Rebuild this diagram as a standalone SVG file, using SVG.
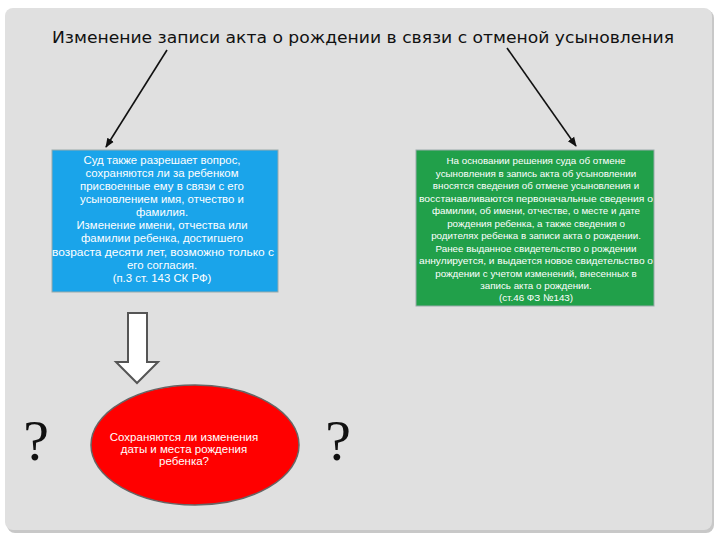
<svg xmlns="http://www.w3.org/2000/svg" width="720" height="540" viewBox="0 0 720 540">
<defs>
<style>
.t{font-family:"Liberation Sans","DejaVu Sans",sans-serif;fill:#fff;text-anchor:middle}
.title{font-family:"DejaVu Sans","Liberation Sans",sans-serif;font-size:16px;fill:#111;text-anchor:middle}
.q{font-family:"Liberation Serif","DejaVu Serif",serif;font-size:58px;fill:#111;text-anchor:middle}
.con{stroke:#111;stroke-width:1.6;fill:none;marker-end:url(#ah)}
</style>
<marker id="ah" viewBox="0 0 10 10" refX="9" refY="5" markerWidth="6" markerHeight="6" orient="auto">
<path d="M0,1 L10,5 L0,9 Z" fill="#111"/>
</marker>
</defs>
<rect x="0" y="0" width="720" height="540" fill="#fff"/>
<rect x="7" y="10" width="707" height="523" rx="8" fill="#c8c8c8"/>
<rect x="5" y="8" width="707" height="522" rx="8" fill="#e0e0e0"/>
<g id="title">
<text class="title" x="363" y="43" textLength="622" lengthAdjust="spacingAndGlyphs">Изменение записи акта о рождении в связи с отменой усыновления</text>
</g>
<g id="connectors">
<line class="con" x1="167" y1="50" x2="106" y2="147"/>
<line class="con" x1="507" y1="48" x2="576" y2="146"/>
<path d="M128,313 H147 V362 H158 L137,383 L116,362 H128 Z" fill="#fff" stroke="#555" stroke-width="2"/>
</g>
<g id="blue">
<rect x="52" y="150" width="226" height="142" fill="#1aa4ea" stroke="#9aa" stroke-width="1"/>
<g class="t" font-size="11.4">
<text x="162" y="164">Суд также разрешает вопрос,</text>
<text x="162" y="177">сохраняются ли за ребенком</text>
<text x="162" y="190">присвоенные ему в связи с его</text>
<text x="162" y="203">усыновлением имя, отчество и</text>
<text x="162" y="216">фамилия.</text>
<text x="162" y="229">Изменение имени, отчества или</text>
<text x="162" y="242">фамилии ребенка, достигшего</text>
<text x="163" y="256" textLength="222" lengthAdjust="spacingAndGlyphs">возраста десяти лет, возможно только с</text>
<text x="162" y="269">его согласия.</text>
<text x="162" y="282">(п.3 ст. 143 СК РФ)</text>
</g>
</g>
<g id="green">
<rect x="416" y="150" width="238" height="156" fill="#21a04a" stroke="#9aa" stroke-width="1"/>
<g class="t" font-size="9.8">
<text x="536" y="164">На основании решения суда об отмене</text>
<text x="536" y="176.5">усыновления в запись акта об усыновлении</text>
<text x="536" y="189">вносятся сведения об отмене усыновления и</text>
<text x="536" y="201.5" textLength="234" lengthAdjust="spacingAndGlyphs">восстанавливаются первоначальные сведения о</text>
<text x="536" y="214">фамилии, об имени, отчестве, о месте и дате</text>
<text x="536" y="226.5">рождения ребенка, а также сведения о</text>
<text x="536" y="239">родителях ребенка в записи акта о рождении.</text>
<text x="536" y="251.5">Ранее выданное свидетельство о рождении</text>
<text x="536" y="264" textLength="234" lengthAdjust="spacingAndGlyphs">аннулируется, и выдается новое свидетельство о</text>
<text x="536" y="276.5">рождении с учетом изменений, внесенных в</text>
<text x="536" y="289">запись акта о рождении.</text>
<text x="536" y="301">(ст.46 ФЗ №143)</text>
</g>
</g>
<g id="ellipse">
<ellipse cx="195" cy="445" rx="104" ry="60" fill="#ff0000" stroke="#666" stroke-width="1.5"/>
<g class="t" font-size="11.5">
<text x="184" y="441">Сохраняются ли изменения</text>
<text x="184" y="453">даты и места рождения</text>
<text x="184" y="465">ребенка?</text>
</g>
</g>
<g id="q1"><text class="q" x="36" y="460">?</text></g>
<g id="q2"><text class="q" x="338" y="460">?</text></g>
</svg>
